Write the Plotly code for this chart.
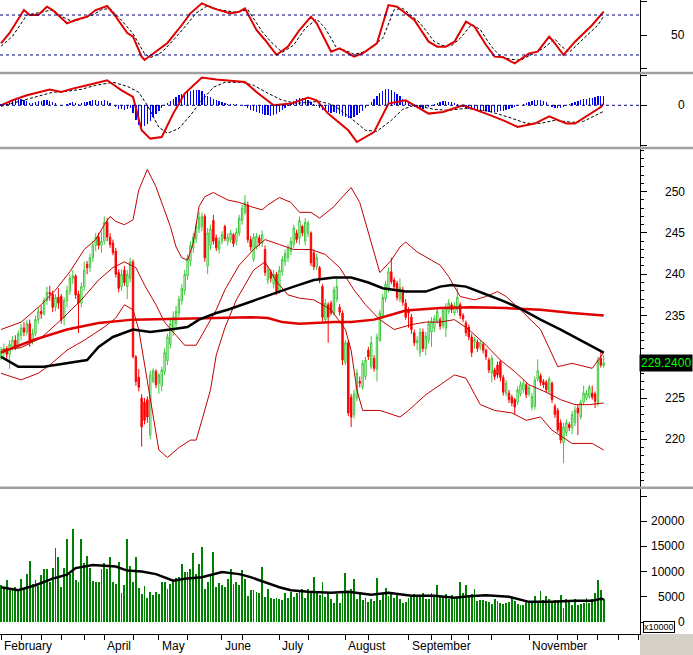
import plotly.graph_objects as go

# ---------------- data ----------------
OPEN = [230.0, 230.6, 231.0, 230.3, 231.2, 232.0, 231.3, 232.6, 233.5, 233.0,
        234.0, 232.0, 232.8, 234.5, 235.5, 235.2, 236.8, 237.8, 237.6, 236.0,
        237.2, 237.3, 234.8, 236.8, 238.0, 239.5, 239.8, 237.6, 236.5, 238.5,
        241.2, 240.8, 242.0, 243.5, 244.5, 243.5, 244.0, 246.3, 244.5, 243.8,
        242.8, 240.2, 238.5, 240.5, 238.5, 239.5, 241.5, 230.0, 227.5, 225.0,
        224.5, 224.8, 220.5, 227.0, 228.2, 226.8, 226.5, 228.2, 229.5, 231.5,
        233.0, 234.0, 235.3, 236.8, 238.0, 239.8, 241.6, 243.2, 244.3, 245.5,
        245.8, 247.0, 241.0, 243.5, 246.5, 244.4, 243.0, 244.0, 245.8, 244.0,
        244.2, 244.8, 244.0, 245.0, 246.5, 247.5, 248.4, 244.2, 241.8, 243.3,
        244.4, 243.8, 243.0, 239.3, 240.3, 238.8, 240.0, 238.0, 240.3, 241.5,
        242.0, 242.8, 243.6, 245.0, 244.4, 245.8, 244.0, 245.0, 245.0, 242.6,
        240.9, 240.8, 238.5, 234.5, 236.3, 236.5, 235.3, 237.0, 236.0, 235.3,
        229.3, 231.7, 225.1, 223.0, 225.0, 227.0, 226.3, 227.6, 230.8, 228.8,
        229.8, 228.5, 232.0, 235.0, 237.0, 238.2, 240.3, 239.3, 238.9, 237.0,
        238.1, 236.5, 235.7, 234.8, 232.9, 231.7, 230.5, 233.0, 231.0, 232.0,
        233.0, 233.5, 234.3, 234.5, 233.8, 233.5, 235.5, 236.3, 235.3, 235.7,
        236.3, 235.0, 234.1, 233.6, 232.4, 231.8, 231.8, 231.2, 231.5, 230.8,
        229.6, 228.0, 228.4, 229.0, 229.4, 227.5, 225.6, 225.6, 225.1, 224.8,
        224.5, 225.5, 226.0, 226.6, 225.5, 223.9, 224.0, 227.3, 227.7, 227.0,
        226.9, 225.8, 226.8, 224.0, 223.5, 222.0, 219.6, 220.8, 221.8, 221.4,
        222.0, 223.8, 222.7, 224.5, 225.0, 225.2, 225.6, 225.5, 224.3, 229.8, 228.9]
HIGH = [231.2, 231.6, 231.3, 232.0, 232.5, 232.6, 233.2, 234.0, 234.2, 234.5,
        234.5, 233.4, 235.0, 236.0, 236.2, 237.2, 238.5, 238.6, 238.0, 237.6,
        238.3, 237.6, 237.2, 238.6, 240.0, 240.5, 240.0, 238.0, 239.0, 241.5,
        241.6, 242.5, 244.0, 245.0, 245.0, 245.2, 247.0, 246.8, 245.0, 244.2,
        243.2, 240.6, 240.6, 241.0, 240.5, 242.0, 241.8, 230.2, 228.5, 225.5,
        225.0, 225.2, 228.3, 228.6, 228.5, 228.0, 228.8, 231.0, 232.8, 234.5,
        235.5, 236.2, 237.4, 238.8, 240.5, 242.4, 244.0, 245.0, 246.2, 247.6,
        247.5, 247.3, 245.6, 246.0, 247.2, 244.8, 244.5, 245.2, 246.0, 245.0,
        245.4, 245.0, 245.6, 247.2, 248.4, 249.6, 248.8, 244.6, 245.0, 245.0,
        244.8, 245.3, 243.5, 241.0, 240.6, 240.5, 240.3, 241.0, 242.2, 243.0,
        243.6, 244.5, 246.0, 245.4, 247.0, 246.0, 246.8, 246.5, 245.2, 243.0,
        242.5, 241.0, 238.8, 237.0, 236.6, 236.8, 238.5, 239.5, 236.4, 235.6,
        232.0, 232.0, 225.5, 226.0, 228.5, 227.6, 229.6, 230.0, 231.2, 232.5,
        230.2, 232.8, 235.7, 237.6, 239.2, 240.8, 242.0, 239.6, 239.2, 239.5,
        238.5, 237.0, 236.0, 235.2, 233.3, 232.5, 233.5, 233.4, 233.0, 234.4,
        234.8, 235.0, 236.0, 234.8, 236.0, 236.5, 237.0, 236.6, 236.6, 238.4,
        236.6, 235.3, 234.4, 233.9, 232.8, 232.4, 232.1, 232.0, 231.8, 231.0,
        229.9, 230.2, 228.7, 229.4, 229.6, 227.8, 227.2, 226.0, 225.4, 225.0,
        226.4, 227.0, 227.2, 226.9, 226.6, 225.6, 227.6, 229.7, 228.0, 227.3,
        227.2, 227.6, 227.0, 224.3, 223.8, 222.4, 222.0, 222.4, 222.1, 223.4,
        224.0, 224.2, 224.8, 226.5, 226.0, 226.6, 226.5, 225.8, 230.0, 230.8, 230.2]
LOW = [229.6, 230.0, 229.5, 228.5, 230.8, 230.8, 231.0, 232.0, 232.5, 232.6,
       231.2, 231.5, 232.5, 234.0, 234.6, 235.0, 236.3, 236.8, 235.4, 235.5,
       235.8, 234.0, 233.8, 236.0, 237.5, 238.8, 237.0, 232.9, 236.0, 238.0,
       240.0, 240.3, 241.5, 242.8, 243.0, 242.6, 243.6, 244.0, 243.2, 242.3,
       239.6, 237.8, 238.0, 238.6, 237.0, 239.0, 229.8, 226.5, 225.8, 219.1,
       221.8, 222.0, 220.0, 226.8, 226.2, 225.5, 225.8, 227.8, 229.0, 231.0,
       232.5, 233.6, 234.8, 236.3, 237.5, 239.3, 241.0, 242.6, 243.8, 245.0,
       245.2, 241.5, 240.0, 243.0, 243.6, 242.8, 242.5, 243.6, 244.0, 243.5,
       243.8, 243.3, 243.5, 244.6, 246.0, 247.2, 243.8, 242.8, 241.5, 243.0,
       243.4, 243.3, 239.8, 238.8, 239.0, 238.3, 237.5, 237.6, 239.8, 241.0,
       241.5, 242.3, 243.2, 243.8, 243.6, 244.6, 243.5, 244.5, 241.0, 240.5,
       240.5, 238.9, 234.3, 234.0, 231.7, 235.0, 235.0, 236.6, 235.0, 229.0,
       229.0, 222.8, 221.5, 222.5, 224.6, 226.3, 226.0, 227.2, 229.6, 228.5,
       228.2, 227.0, 231.8, 234.6, 236.6, 237.8, 238.8, 238.2, 236.8, 236.6,
       236.2, 234.5, 233.5, 232.8, 231.3, 230.8, 230.0, 230.6, 230.2, 231.6,
       231.2, 233.0, 234.0, 233.3, 233.4, 232.4, 235.2, 235.3, 235.0, 235.3,
       234.6, 234.2, 232.5, 232.0, 230.0, 231.0, 230.6, 230.8, 230.4, 229.6,
       228.0, 226.9, 227.2, 227.4, 227.0, 225.3, 225.2, 224.4, 224.0, 223.0,
       224.2, 225.2, 225.6, 225.0, 225.2, 223.5, 223.6, 227.0, 226.5, 226.2,
       225.6, 225.5, 224.4, 222.6, 220.8, 219.5, 217.1, 220.4, 221.0, 220.6,
       221.6, 220.5, 222.4, 224.2, 224.7, 224.9, 224.8, 223.8, 224.0, 228.7, 228.7]
CLOSE = [230.6, 231.0, 230.3, 231.5, 232.0, 231.3, 232.8, 233.5, 233.0, 234.0,
         232.0, 232.8, 234.5, 235.5, 235.2, 236.8, 237.8, 237.6, 236.0, 237.2,
         236.5, 234.5, 236.8, 238.0, 239.5, 239.8, 237.5, 236.5, 238.5, 240.5,
         240.8, 242.0, 243.5, 244.5, 243.5, 244.0, 246.3, 244.5, 243.6, 242.6,
         240.0, 238.3, 240.0, 239.0, 240.0, 241.5, 230.0, 227.0, 226.3, 221.5,
         222.3, 222.7, 227.8, 228.3, 226.6, 227.8, 228.4, 230.5, 232.4, 234.0,
         234.8, 235.5, 237.0, 238.3, 240.0, 242.0, 243.5, 244.5, 245.8, 246.9,
         247.0, 242.0, 245.0, 245.5, 244.0, 243.2, 244.0, 244.8, 244.3, 244.5,
         245.0, 243.7, 245.1, 246.8, 248.0, 248.7, 244.2, 243.3, 244.5, 244.6,
         243.8, 244.8, 240.2, 240.5, 239.5, 240.0, 237.9, 240.5, 241.8, 242.5,
         243.2, 244.0, 245.6, 244.2, 246.5, 245.0, 246.3, 246.2, 241.4, 240.9,
         242.0, 239.3, 234.8, 236.5, 234.8, 235.3, 238.1, 238.5, 235.4, 229.6,
         231.7, 223.2, 222.7, 225.5, 228.0, 226.8, 229.2, 229.6, 230.0, 231.7,
         228.6, 232.4, 235.3, 237.2, 238.8, 240.3, 239.1, 238.5, 237.2, 238.4,
         236.6, 234.8, 235.3, 233.3, 231.7, 232.0, 233.0, 231.0, 232.5, 234.0,
         234.3, 234.6, 235.5, 233.7, 235.6, 236.0, 236.5, 235.7, 236.2, 237.2,
         235.0, 234.6, 232.9, 232.4, 230.5, 232.1, 231.0, 231.7, 230.8, 230.0,
         228.4, 229.8, 227.6, 227.8, 227.5, 225.7, 226.8, 224.8, 224.4, 223.9,
         226.0, 226.6, 226.8, 225.4, 226.3, 225.2, 227.2, 228.3, 226.9, 226.6,
         226.0, 227.3, 224.8, 223.0, 221.1, 219.9, 221.5, 222.0, 221.4, 223.0,
         223.5, 223.2, 224.5, 225.6, 225.6, 226.3, 225.1, 224.6, 229.6, 229.0, 229.24]

VOLUME = [7300, 6900, 8400, 6600, 6300, 7000, 6200, 8500, 6800, 9500,
          12200, 7600, 8400, 7200, 9400, 10600, 10600, 8000, 10800, 14600,
          12800, 7000, 10700, 16400, 9600, 18400, 8400, 8000, 16400, 11700,
          13000, 10700, 8200, 8000, 7900, 10500, 11800, 10500, 12800, 7900,
          7500, 12000, 5700, 7400, 16400, 11200, 7900, 12800, 6800, 5500,
          7200, 4800, 6000, 5300, 6000, 5600, 7900, 8000, 6500, 7600,
          8300, 8800, 9000, 11500, 10000, 10000, 10500, 13600, 9500, 11600,
          14800, 6600, 7900, 9500, 13800, 6900, 7700, 7300, 6900, 8500,
          10500, 7600, 8000, 7300, 10300, 8500, 5100, 6400, 6300, 6000,
          5800, 11000, 5000, 6600, 4700, 4500, 4800, 4500, 4300, 5700,
          4700, 6000, 5000, 5800, 6000, 6600, 4800, 6500, 6200, 8900,
          5800, 5400, 8000, 5000, 6000, 4500, 3800, 5500, 3800, 5800,
          9700, 6200, 6600, 8600, 4600, 5600, 4300, 4800, 4000, 4500,
          4200, 8800, 4400, 5800, 6700, 5200, 5600, 4700, 5400, 4500,
          3700, 4000, 4800, 5000, 5600, 5200, 4900, 5700, 4500, 4600,
          5700, 5000, 7300, 4900, 5200, 5500, 4500, 5300, 5000, 4700,
          7900, 5700, 7300, 5300, 5500, 6600, 4200, 4400, 4300, 4100,
          4000, 3600, 4500, 4200, 3800, 3600, 3800, 3900, 4800, 4200,
          3600, 3300, 3400, 3900, 4100, 4200, 5200, 4000, 6100, 4400,
          5200, 4600, 3700, 4400, 4300, 5300, 2800, 4500, 4100, 3300,
          4600, 3400, 3500, 3700, 4800, 3800, 4500, 5800, 8400, 6300, 4600]

MACD_HIST = [0.1, 0.2, 0.2, 0.3, 0.4, 0.5, 0.6, 0.6, 0.5, 0.4,
             0.2, 0.2, 0.3, 0.4, 0.4, 0.5, 0.5, 0.4, 0.3, 0.2,
             0.0, -0.1, 0.0, 0.1, 0.2, 0.3, 0.2, 0.1, 0.2, 0.3,
             0.3, 0.4, 0.5, 0.5, 0.4, 0.4, 0.5, 0.4, 0.2, 0.0,
             -0.2, -0.4, -0.4, -0.5, -0.4, -0.3, -0.8, -1.5, -2.0, -2.2,
             -2.1, -1.9, -1.6, -1.2, -0.9, -0.6, -0.3, -0.1, 0.2, 0.4,
             0.6, 0.8, 1.0, 1.1, 1.2, 1.3, 1.4, 1.5, 1.5, 1.5,
             1.4, 1.1, 0.9, 0.8, 0.6, 0.5, 0.4, 0.3, 0.2, 0.1,
             0.1, 0.1, 0.1, 0.0, 0.0, -0.1, -0.3, -0.5, -0.6, -0.7,
             -0.8, -0.9, -1.0, -1.0, -1.1, -1.0, -0.9, -0.7, -0.5, -0.3,
             -0.1, 0.2, 0.4, 0.6, 0.7, 0.7, 0.6, 0.5, 0.3, 0.1,
             -0.1, -0.3, -0.5, -0.6, -0.7, -0.8, -0.7, -0.8, -0.9, -1.1,
             -1.2, -1.3, -1.3, -1.2, -1.0, -0.8, -0.6, -0.3, 0.0, 0.3,
             0.6, 0.9, 1.2, 1.4, 1.6, 1.6, 1.5, 1.3, 1.1, 0.9,
             0.6, 0.4, 0.2, 0.0, -0.2, -0.3, -0.4, -0.4, -0.3, -0.2,
             -0.1, 0.1, 0.2, 0.3, 0.4, 0.4, 0.3, 0.3, 0.2, 0.1,
             -0.1, -0.2, -0.3, -0.4, -0.4, -0.5, -0.5, -0.6, -0.6, -0.6,
             -0.7, -0.7, -0.7, -0.7, -0.6, -0.6, -0.5, -0.4, -0.3, -0.2,
             -0.1, 0.0, 0.1, 0.2, 0.3, 0.4, 0.5, 0.5, 0.5, 0.4,
             0.3, 0.0, -0.2, -0.3, -0.3, -0.3, -0.2, -0.1, 0.1, 0.2,
             0.3, 0.4, 0.5, 0.6, 0.6, 0.7, 0.7, 0.8, 0.9, 0.9, 0.9]

# indicator lines, sampled points (day index, value)
BB_UP_I = [0, 7, 14, 19, 24, 29, 33, 36, 38, 40, 43, 46, 48, 51, 54, 56, 59, 61, 63, 65, 67, 69, 71, 74,
           79, 83, 87, 91, 93, 97, 101, 104, 108, 111, 116, 118, 122, 125, 129, 132, 136, 139, 141, 145,
           150, 153, 156, 160, 165, 169, 173, 176, 181, 188, 194, 199, 206, 210]
BB_UP_V = [233.3, 234.2, 236.3, 238.1, 240.3, 243.0, 244.2, 246.0, 247.0, 246.4, 246.0, 246.6, 250.2,
           252.7, 250.6, 248.7, 245.8, 243.3, 242.0, 241.7, 243.8, 248.2, 249.4, 249.9, 249.0, 248.7,
           248.2, 247.8, 248.4, 249.3, 248.7, 247.5, 247.5, 246.8, 248.2, 249.0, 250.5, 248.7, 243.8,
           240.2, 241.7, 243.3, 243.9, 242.7, 241.7, 241.1, 239.7, 237.3, 236.9, 237.3, 237.9, 237.3,
           235.7, 233.3, 228.8, 229.2, 228.6, 230.5]
BB_MID_I = [0, 7, 14, 21, 28, 34, 39, 43, 47, 50, 54, 57, 61, 64, 68, 71, 75, 78, 83, 88, 92, 97, 102,
            108, 113, 118, 123, 127, 132, 137, 143, 148, 153, 158, 163, 169, 174, 179, 184, 190, 195,
            200, 205, 210]
BB_MID_V = [230.8, 231.1, 232.3, 234.5, 236.9, 239.3, 240.8, 241.5, 240.8, 238.7, 236.3, 234.2, 232.6,
            231.4, 231.4, 233.3, 235.7, 238.1, 241.1, 243.0, 244.2, 243.6, 243.0, 243.0, 242.4, 240.8,
            238.1, 236.3, 234.5, 233.3, 233.9, 234.2, 234.2, 234.5, 233.3, 231.4, 229.6, 228.2, 226.6,
            225.7, 224.8, 224.2, 224.2, 224.4]
BB_LOW_I = [0, 7, 13, 17, 23, 29, 36, 40, 43, 46, 48, 51, 54, 55, 58, 62, 66, 68, 70, 73, 75, 78, 82,
            85, 88, 92, 96, 100, 104, 109, 115, 120, 122, 124, 126, 132, 139, 142, 148, 153, 158, 162,
            167, 172, 178, 183, 188, 192, 199, 206, 210]
BB_LOW_V = [228.0, 227.2, 228.0, 229.0, 230.8, 232.0, 233.6, 234.7, 236.3, 235.7, 233.3, 227.2, 221.1,
            218.7, 217.8, 219.0, 219.9, 219.9, 222.3, 226.0, 230.2, 233.5, 236.9, 238.7, 240.5, 241.5,
            239.1, 237.5, 237.1, 236.9, 235.7, 233.3, 230.8, 226.0, 223.5, 223.5, 222.7, 223.5, 225.4,
            226.6, 227.8, 227.4, 224.2, 223.5, 223.2, 222.3, 222.7, 221.1, 219.5, 219.5, 218.7]
MA_BLACK_I = [0, 6, 15, 23, 30, 34, 39, 46, 52, 59, 65, 69, 75, 79, 87, 95, 102, 109, 116, 122, 128,
              133, 141, 148, 153, 157, 162, 168, 174, 180, 188, 195, 202, 206, 210]
MA_BLACK_V = [230.0, 228.8, 228.8, 229.2, 229.6, 231.2, 232.4, 233.3, 233.0, 233.3, 233.6, 234.5, 235.3,
              235.7, 236.7, 237.7, 238.5, 239.3, 239.6, 239.6, 239.0, 238.3, 237.9, 237.9, 238.5, 238.7,
              238.5, 237.7, 236.9, 236.0, 234.5, 233.3, 232.0, 231.2, 230.5]
MA_RED_I = [0, 11, 23, 34, 46, 69, 87, 93, 98, 104, 110, 116, 122, 130, 136, 141, 153, 164, 176, 188,
            199, 210]
MA_RED_V = [230.5, 232.0, 233.3, 234.1, 234.5, 234.7, 234.8, 234.7, 234.2, 234.0, 234.1, 234.2, 234.2,
            234.5, 235.1, 235.6, 235.9, 236.0, 235.9, 235.7, 235.3, 235.0]

STOCH_K_I = [0, 3, 8, 10, 13, 16, 18, 23, 26, 30, 33, 37, 40, 44, 46, 49, 50, 54, 58, 63, 66, 70, 74,
             80, 83, 85, 89, 92, 96, 100, 104, 108, 110, 115, 118, 120, 123, 126, 131, 135, 138, 144,
             149, 152, 155, 158, 162, 165, 169, 172, 175, 179, 184, 187, 191, 193, 196, 200, 206, 210]
STOCH_K_V = [37.5, 53, 87.5, 80, 80, 92.5, 87.5, 67.5, 72.5, 77.5, 87.5, 93.5, 77.5, 53, 47.5, 17.5,
             12.5, 25, 38, 65, 82.5, 97.5, 90, 82.5, 85, 90, 57.5, 42.5, 20, 32.5, 57.5, 77.5, 67.5, 25,
             30, 25, 17.5, 22.5, 37.5, 95, 92.5, 72.5, 40, 32.5, 32.5, 40, 70, 62.5, 35, 17.5, 16.5,
             7.5, 22.5, 25, 47.5, 37.5, 20, 40, 65, 85]
STOCH_D_I = [0, 4, 9, 12, 15, 18, 21, 25, 28, 32, 35, 38, 42, 46, 50, 52, 56, 60, 65, 68, 72, 76, 82,
             86, 91, 94, 98, 102, 106, 110, 113, 117, 120, 123, 127, 133, 137, 140, 146, 151, 154, 157,
             160, 164, 167, 171, 174, 177, 181, 186, 189, 193, 195, 198, 202, 208, 210]
STOCH_D_V = [33, 48, 80, 82, 85, 88, 78, 70, 74, 80, 88, 90, 72, 52, 22, 16, 24, 42, 67, 83, 94, 88, 84,
             88, 55, 40, 24, 35, 60, 74, 60, 30, 27, 21, 25, 45, 88, 90, 68, 40, 34, 34, 45, 66, 58, 32,
             18, 14, 12, 24, 30, 44, 34, 24, 40, 65, 78]

MACD_I = [0, 4, 9, 17, 21, 25, 30, 37, 42, 46, 49, 52, 56, 60, 64, 70, 75, 83, 85, 89, 95, 101, 107,
          110, 114, 121, 124, 130, 135, 141, 149, 154, 161, 169, 175, 180, 186, 191, 197, 200, 206,
          209, 210]
MACD_V = [0.0, 0.5, 1.0, 1.57, 1.33, 1.67, 2.0, 2.5, 1.5, 0.83, -2.5, -3.33, -3.17, -0.83, 1.17, 2.77,
          2.57, 2.4, 2.33, 1.33, 0.0, 0.17, 0.77, 0.5, -0.83, -2.5, -3.67, -2.67, 0.17, 0.5, -0.83,
          -0.67, 0.0, -0.83, -1.5, -2.17, -1.83, -1.1, -1.83, -1.83, -0.67, -0.17, 0.17]
SIGNAL_I = [0, 5, 10, 18, 23, 28, 33, 39, 44, 48, 51, 55, 58, 62, 66, 70, 74, 78, 84, 88, 93, 98, 103,
            108, 111, 116, 122, 127, 131, 136, 140, 144, 151, 156, 162, 170, 177, 183, 188, 193, 199,
            203, 206, 210]
SIGNAL_V = [-0.1, 0.3, 0.7, 1.3, 1.4, 1.6, 2.0, 2.3, 1.9, 1.3, 0.0, -2.2, -2.8, -2.3, -1.0, 0.5, 1.8,
            2.3, 2.3, 2.0, 1.2, 0.5, 0.2, 0.3, 0.4, 0.0, -1.3, -2.5, -2.6, -1.5, -0.4, 0.0, -0.4, -0.5,
            -0.3, -0.6, -1.2, -1.8, -1.8, -1.5, -1.7, -1.6, -1.2, -0.6]

VOL_MA_I = [0, 6, 12, 18, 23, 26, 32, 40, 44, 49, 54, 60, 64, 70, 77, 83, 87, 92, 97, 101, 107, 115,
            121, 129, 135, 143, 151, 158, 163, 169, 177, 184, 192, 200, 206, 209, 210]
VOL_MA_V = [6900, 6300, 7300, 8600, 9400, 10700, 11300, 11000, 10200, 10000, 9500, 8200, 8600, 8900,
            9900, 9500, 8900, 7900, 6900, 6300, 6000, 5800, 6000, 5400, 5800, 5200, 5200, 4800, 5100,
            5300, 5000, 4000, 4000, 4200, 4200, 4600, 4500]

MONTH_LABELS = ["February", "April", "May", "June", "July", "August", "September", "November"]
MONTH_POS = [0, 36, 55, 77, 97, 120, 142, 184]
X_TICKS = [0, 7, 14, 21, 29, 36, 46, 55, 65, 77, 84, 97, 107, 120, 128, 142, 150, 157, 163, 171, 184,
           194, 201, 208, 215, 222]

PRICE_TICKS = [220, 225, 230, 235, 240, 245, 250]
VOL_TICKS = [0, 5000, 10000, 15000, 20000, 25000]
LAST_PRICE = "229.2400"

IDX = list(range(len(CLOSE)))

# ---------------- figure ----------------
W, H = 693, 655
PLOT_W, PLOT_H = 640, 634
FONT = "Liberation Sans, Arial, sans-serif"

fig = go.Figure()

# stochastic
fig.add_trace(go.Scatter(x=STOCH_D_I, y=STOCH_D_V, mode="lines",
                         line=dict(color="black", width=1, dash="3px,2px"), xaxis="x", yaxis="y"))
fig.add_trace(go.Scatter(x=STOCH_K_I, y=STOCH_K_V, mode="lines",
                         line=dict(color="#e00000", width=2), xaxis="x", yaxis="y"))
# MACD
fig.add_trace(go.Bar(x=IDX, y=MACD_HIST, marker=dict(color="#0000ff", line=dict(width=0)),
                     width=0.45, xaxis="x2", yaxis="y2"))
fig.add_trace(go.Scatter(x=SIGNAL_I, y=SIGNAL_V, mode="lines",
                         line=dict(color="black", width=1, dash="3px,2px"), xaxis="x2", yaxis="y2"))
fig.add_trace(go.Scatter(x=MACD_I, y=MACD_V, mode="lines",
                         line=dict(color="#e00000", width=2), xaxis="x2", yaxis="y2"))
# price
for xi, yv in ((BB_UP_I, BB_UP_V), (BB_MID_I, BB_MID_V), (BB_LOW_I, BB_LOW_V)):
    fig.add_trace(go.Scatter(x=xi, y=yv, mode="lines", line=dict(color="#c00000", width=1),
                             xaxis="x3", yaxis="y3"))
fig.add_trace(go.Candlestick(x=IDX, open=OPEN, high=HIGH, low=LOW, close=CLOSE,
                             increasing=dict(line=dict(color="#3cc83c", width=1), fillcolor="white"),
                             decreasing=dict(line=dict(color="#ff0000", width=1), fillcolor="#ff0000"),
                             whiskerwidth=0, xaxis="x3", yaxis="y3"))
fig.add_trace(go.Scatter(x=MA_RED_I, y=MA_RED_V, mode="lines", line=dict(color="#e00000", width=2.5),
                         xaxis="x3", yaxis="y3"))
fig.add_trace(go.Scatter(x=MA_BLACK_I, y=MA_BLACK_V, mode="lines", line=dict(color="black", width=2.5),
                         xaxis="x3", yaxis="y3"))
# volume
fig.add_trace(go.Bar(x=IDX, y=VOLUME, marker=dict(color="#008000", line=dict(width=0)), width=0.65,
                     xaxis="x4", yaxis="y4"))
fig.add_trace(go.Scatter(x=VOL_MA_I, y=VOL_MA_V, mode="lines", line=dict(color="black", width=2.5),
                         xaxis="x4", yaxis="y4"))


def pfrac(px_from_top):
    return (PLOT_H - px_from_top) / PLOT_H


XR = [-0.35, 222.65]
xcommon = dict(range=XR, showgrid=False, zeroline=False, showticklabels=False, ticks="",
               showline=False, fixedrange=True)
ycommon = dict(side="right", showgrid=False, zeroline=False, showline=True, linecolor="black",
               linewidth=1, ticks="outside", ticklen=6, tickcolor="black", showticklabels=False,
               fixedrange=True)

fig.update_layout(
    width=W, height=H, margin=dict(l=0, r=W - PLOT_W, t=0, b=H - PLOT_H),
    paper_bgcolor="white", plot_bgcolor="white", showlegend=False,
    font=dict(family=FONT, size=12, color="black"),
    bargap=0,
    xaxis=dict(xcommon, domain=[0, 1], anchor="y", matches="x4"),
    xaxis2=dict(xcommon, domain=[0, 1], anchor="y2", matches="x4"),
    xaxis3=dict(xcommon, domain=[0, 1], anchor="y3", matches="x4", rangeslider=dict(visible=False)),
    xaxis4=dict(xcommon, domain=[0, 1], anchor="y4", ticks="outside", ticklen=5, tickcolor="black",
                tickvals=X_TICKS, showline=True, linecolor="black", linewidth=1),
    yaxis=dict(ycommon, domain=[pfrac(71.5), 1], anchor="x", range=[-4.8, 102.55],
               tickvals=[0, 50, 100]),
    yaxis2=dict(ycommon, domain=[pfrac(146.7), pfrac(74)], anchor="x2", range=[-4.14, 3.13],
                tickvals=[-4, 0, 3]),
    yaxis3=dict(ycommon, domain=[pfrac(486.5), pfrac(149.3)], anchor="x3", range=[214.28, 255.14],
                tickvals=PRICE_TICKS, minor=dict(dtick=1, ticklen=3, ticks="outside", tickcolor="black")),
    yaxis4=dict(ycommon, domain=[0, pfrac(489)], anchor="x4", range=[-2380, 26390],
                tickvals=VOL_TICKS),
)

shapes = []
# reference levels
for yv in (80, 20):
    shapes.append(dict(type="line", xref="x domain", yref="y", x0=0, x1=1, y0=yv, y1=yv,
                       line=dict(color="#000080", width=1, dash="dot")))
shapes.append(dict(type="line", xref="x2 domain", yref="y2", x0=0, x1=1, y0=0, y1=0,
                   line=dict(color="#000080", width=1, dash="dot")))
# panel separators
for py in (73, 148, 487.7):
    shapes.append(dict(type="line", xref="paper", yref="paper", x0=0, x1=W / PLOT_W,
                       y0=pfrac(py), y1=pfrac(py), line=dict(color="#a0a0a0", width=2.5)))
# grey corner under the price scale
shapes.append(dict(type="rect", xref="paper", yref="paper", x0=1.0, x1=W / PLOT_W,
                   y0=pfrac(H), y1=0, fillcolor="#d4d0c8", line=dict(width=0), layer="below"))
fig.update_layout(shapes=shapes)

ann = []
LX = 687 / PLOT_W
ann.append(dict(x=LX, y=50, xref="paper", yref="y", text="50", showarrow=False, xanchor="right",
                yanchor="middle", font=dict(size=12)))
ann.append(dict(x=LX, y=0, xref="paper", yref="y2", text="0", showarrow=False, xanchor="right",
                yanchor="middle", font=dict(size=12)))
for t in PRICE_TICKS:
    if t == 230:
        continue
    ann.append(dict(x=LX, y=t, xref="paper", yref="y3", text=str(t), showarrow=False,
                    xanchor="right", yanchor="middle", font=dict(size=12)))
for t in VOL_TICKS[:-1]:
    ann.append(dict(x=LX, y=t, xref="paper", yref="y4", text=str(t), showarrow=False,
                    xanchor="right", yanchor="middle", font=dict(size=12)))
ann.append(dict(x=638.5 / PLOT_W, y=CLOSE[-1], xref="paper", yref="y3", text=LAST_PRICE,
                showarrow=False, xanchor="left", yanchor="middle", bgcolor="black",
                font=dict(size=12, color="#00ff00"), borderpad=1))
ann.append(dict(x=643 / PLOT_W, y=pfrac(627), xref="paper", yref="paper", text="x10000",
                showarrow=False, xanchor="left", yanchor="middle", bgcolor="white",
                bordercolor="black", borderwidth=1, borderpad=0, font=dict(size=9)))
for lab, pos in zip(MONTH_LABELS, MONTH_POS):
    ann.append(dict(x=pos, y=pfrac(646), xref="x4", yref="paper", text=lab, showarrow=False,
                    xanchor="left", yanchor="middle", xshift=1, font=dict(size=12)))
fig.update_layout(annotations=ann)

fig.write_html("out.html", config={"displayModeBar": False, "staticPlot": True},
               post_script="document.body.style.margin='0';document.body.style.overflow='hidden';")
